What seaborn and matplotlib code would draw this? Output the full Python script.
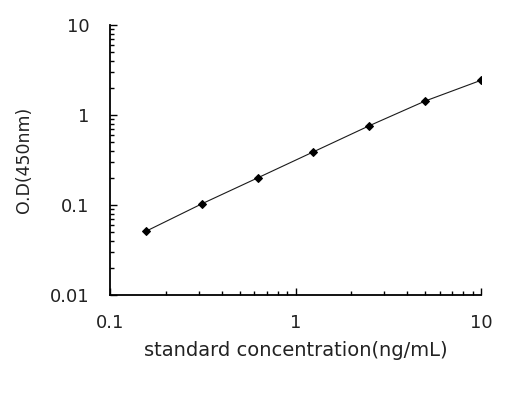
import matplotlib
matplotlib.use("Agg")
import matplotlib.pyplot as plt
import seaborn as sns
import pandas as pd
from matplotlib.ticker import LogLocator, FixedFormatter, FixedLocator

concentration = [0.156, 0.3125, 0.625, 1.25, 2.5, 5, 10]
od450 = [0.051, 0.103, 0.20, 0.39, 0.76, 1.43, 2.43]
x_ticks = [0.1, 1, 10]
x_tick_labels = ["0.1", "1", "10"]
y_ticks = [0.01, 0.1, 1, 10]
y_tick_labels = ["0.01", "0.1", "1", "10"]

sns.set_style("white")
plt.rcParams['font.family'] = ['DejaVu Sans']

df = pd.DataFrame({"conc": concentration, "od": od450})

fig = plt.figure(figsize=(5.19, 4.04), dpi=100)
ax = fig.add_axes([110/519, 1-295/404, (481-110)/519, (295-25)/404])

sns.lineplot(data=df, x="conc", y="od", ax=ax, color="#1a1a1a", linewidth=0.8,
             marker="D", markersize=4.5, markeredgecolor="black", markerfacecolor="black")

ax.set_xscale("log")
ax.set_yscale("log")
ax.set_xlim(0.1, 10)
ax.set_ylim(0.01, 10)

ax.xaxis.set_major_locator(FixedLocator(x_ticks))
ax.xaxis.set_major_formatter(FixedFormatter(x_tick_labels))
ax.yaxis.set_major_locator(FixedLocator(y_ticks))
ax.yaxis.set_major_formatter(FixedFormatter(y_tick_labels))
ax.xaxis.set_minor_locator(LogLocator(base=10, subs=range(2, 10)))
ax.yaxis.set_minor_locator(LogLocator(base=10, subs=range(2, 10)))
ax.xaxis.set_minor_formatter(plt.NullFormatter())
ax.yaxis.set_minor_formatter(plt.NullFormatter())

for s in ["top", "right"]:
    ax.spines[s].set_visible(False)
for s in ["left", "bottom"]:
    ax.spines[s].set_color("black")
    ax.spines[s].set_linewidth(1.3)

ax.tick_params(axis="y", which="major", direction="in", length=5, width=1,
               color="black", labelsize=13, labelcolor="#222222", pad=15,
               left=True)
ax.tick_params(axis="x", which="major", direction="in", length=5, width=1,
               color="black", labelsize=13, labelcolor="#222222", pad=14,
               bottom=True)
ax.tick_params(axis="both", which="minor", direction="in", length=3, width=1,
               color="black", left=True, bottom=True)

ax.set_xlabel("standard concentration(ng/mL)", fontsize=14, color="#222222", labelpad=6)
ax.set_ylabel("O.D(450nm)", fontsize=12.5, color="#222222", labelpad=12)

fig.savefig("out.png", dpi=100)
